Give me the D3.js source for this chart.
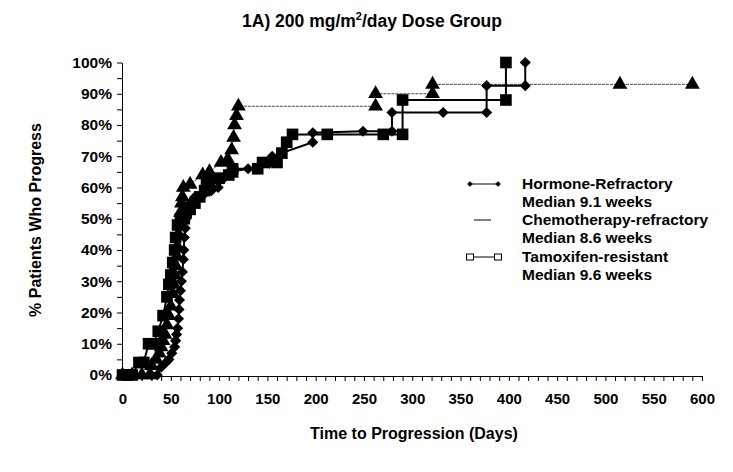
<!DOCTYPE html>
<html><head><meta charset="utf-8">
<script src="https://cdn.jsdelivr.net/npm/d3@7"></script>
<style>
body{margin:0;background:#fff}
svg{display:block}
text{font-family:"Liberation Sans",Arial,sans-serif;font-weight:bold;fill:#000}
</style>
</head><body>
<svg id="chart" width="733" height="472"></svg>
<script>
// ---- data ----
const hormoneDays=[0,10,20,30,36,40,45,48,51,54,55,56,57,58,58.5,59,60,61,62,63,63.5,64,65,66,68,70,75,85,92,99,105,112,130,152,155,197,197,249,279,279,332,377,377,417,417];
const hormonePct =[0,0,0,0,0,2.5,4,5,7,9,11,13,15,18,21,24,27,30,33,37,40,44,47,50,53,55,57,58,59,60,63,65,66,67.7,70,74.5,77.5,78,78,84,84,84,92.6,92.6,100];

const chemoDays=[0,10,20,28,30,35,38,40,42,44,46,48,50,52,53,54,55,56,57,58,59,60,61,62,63,70,83,90,102,109,113,115,116,118,120,262,262,321,321,515,590];
const chemoPct =[0,0,0,0,3,5,7,9,11,13,16,19,22,26,29,32,35,38,41,45,49,52,55,57,60,61,64,65,68,69,72,76,80,83,86,86,90,90,93,93,93];

const tamoxDays=[0,5,10,17,22,27,32,37,42,46,48,50,52,54,55,57,60,64,66,70,75,80,85,87,90,100,110,114,114,140,145,160,165,170,176,212,270,290,290,397,397];
const tamoxPct =[0,0,0,4,4,10,10,14,19,25,29,32,36,40,44,48,50,50,52,53,55,57,59,61,62,63,64,65,66,66,68,68,71,74.5,77,77,77,77,88,88,100];

const xTickValues=[0,50,100,150,200,250,300,350,400,450,500,550,600];
const yTickValues=[0,10,20,30,40,50,60,70,80,90,100];
const legendLabels=[["Hormone-Refractory","Median 9.1 weeks"],["Chemotherapy-refractory","Median 8.6 weeks"],["Tamoxifen-resistant","Median 9.6 weeks"]];

// ---- chart ----
const svg=d3.select("#chart");
const x=d3.scaleLinear().domain([0,600]).range([122.5,702]);
const y=d3.scaleLinear().domain([0,100]).range([375,62.5]);

// title
const title=svg.append("text").attr("x",372).attr("y",27).attr("text-anchor","middle").style("font-size","17.5px");
title.append("tspan").text("1A) 200 mg/m");
title.append("tspan").attr("dy",-7).style("font-size","11px").text("2");
title.append("tspan").attr("dy",7).text("/day Dose Group");

// axes
const xAxis=d3.axisBottom(x).tickValues(d3.range(0,601,10)).tickSize(5).tickSizeOuter(0)
  .tickFormat(d=>xTickValues.includes(d)?d:"");
const gx=svg.append("g").attr("transform","translate(0,376)").call(xAxis);
gx.selectAll("text").style("font-size","15px").attr("dy","1.35em");
const yAxis=d3.axisLeft(y).tickValues(d3.range(0,101,5)).tickSize(5).tickSizeOuter(0)
  .tickFormat(d=>yTickValues.includes(d)?d+"%":"");
const gy=svg.append("g").attr("transform","translate(122,0)").call(yAxis);
gy.selectAll("text").style("font-size","15.5px").attr("x",-10);
svg.selectAll(".domain,.tick line").attr("stroke","#000").attr("stroke-width",1);

svg.append("text").attr("x",414).attr("y",439).attr("text-anchor","middle").style("font-size","16px").text("Time to Progression (Days)");
svg.append("text").attr("transform","translate(41,220) rotate(-90)").attr("text-anchor","middle").style("font-size","16px").text("% Patients Who Progress");

// series
function pts(days,pct){return days.map((d,i)=>[d,pct[i]]);}
const line=d3.line().x(d=>x(d[0])).y(d=>y(d[1]));
const hormone=pts(hormoneDays,hormonePct), chemo=pts(chemoDays,chemoPct), tamox=pts(tamoxDays,tamoxPct);

svg.append("path").attr("d",line(chemo)).attr("fill","none").attr("stroke","#444").attr("stroke-width",1).attr("stroke-dasharray","3,1");
svg.append("path").attr("d",line(hormone)).attr("fill","none").attr("stroke","#000").attr("stroke-width",2);
svg.append("path").attr("d",line(tamox)).attr("fill","none").attr("stroke","#000").attr("stroke-width",2);

const sym=(type,size)=>d3.symbol().type(type).size(size);
svg.append("g").selectAll("path").data(chemo).join("path")
  .attr("transform",d=>`translate(${x(d[0])},${y(d[1])})`).attr("d",sym(d3.symbolTriangle,95)).attr("fill","#000");
svg.append("g").selectAll("path").data(hormone).join("path")
  .attr("transform",d=>`translate(${x(d[0])},${y(d[1])}) rotate(45)`).attr("d",d3.symbol().type(d3.symbolSquare).size(62)).attr("fill","#000");
svg.append("g").selectAll("path").data(tamox).join("path")
  .attr("transform",d=>`translate(${x(d[0])},${y(d[1])})`).attr("d",sym(d3.symbolSquare,135)).attr("fill","#000");

// legend
const lg=svg.append("g");
const rows=[184,220,257];
legendLabels.forEach((lab,i)=>{
  lg.append("text").attr("x",522).attr("y",rows[i]+5).style("font-size","15.5px").text(lab[0]);
  lg.append("text").attr("x",522).attr("y",rows[i]+23).style("font-size","15.5px").text(lab[1]);
});
lg.append("line").attr("x1",470).attr("x2",498).attr("y1",rows[0]).attr("y2",rows[0]).attr("stroke","#000").attr("stroke-width",1);
[470,498].forEach(cx=>lg.append("path").attr("transform",`translate(${cx},${rows[0]}) rotate(45)`).attr("d",d3.symbol().type(d3.symbolSquare).size(16)).attr("fill","#000"));
lg.append("line").attr("x1",474).attr("x2",491).attr("y1",rows[1]).attr("y2",rows[1]).attr("stroke","#000").attr("stroke-width",1);
lg.append("line").attr("x1",470).attr("x2",498).attr("y1",rows[2]).attr("y2",rows[2]).attr("stroke","#000").attr("stroke-width",1);
[470,498].forEach(cx=>lg.append("rect").attr("x",cx-3.5).attr("y",rows[2]-3).attr("width",7).attr("height",6).attr("fill","#fff").attr("stroke","#000").attr("stroke-width",1));
</script>
</body></html>
